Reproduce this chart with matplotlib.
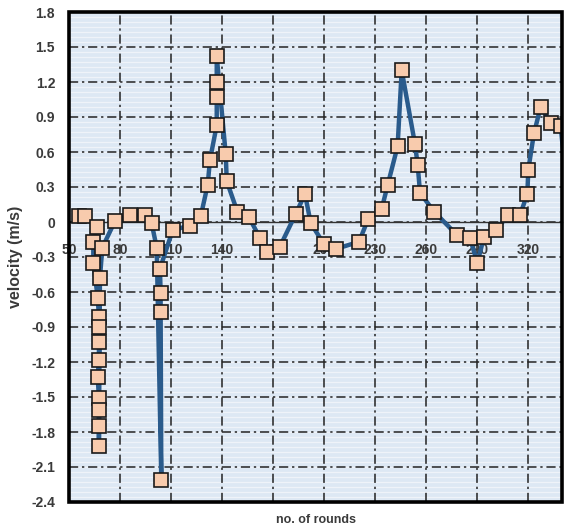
import matplotlib
matplotlib.use("Agg")
import matplotlib.pyplot as plt
import numpy as np
from matplotlib.patches import Rectangle

# ── data ────────────────────────────────────────────────────────────────────
rounds = [55.9, 59.4, 66.6, 64.3, 64.3, 66.9, 67.6, 67.6, 67.6, 67.6,
          66.9, 67.6, 67.6, 67.6, 67.6, 68.2, 69.6, 77.1, 85.9, 94.7,
          98.6, 101.6, 104.3, 103.9, 103.9, 103.5, 111.0, 121.2, 127.5, 131.6,
          132.9, 136.9, 136.9, 136.9, 136.9, 142.2, 142.8, 149.0, 155.9, 162.4,
          166.3, 174.1, 183.4, 188.8, 192.2, 200.0, 207.1, 220.6, 226.1, 233.9,
          237.5, 243.3, 245.7, 253.5, 255.1, 256.5, 264.7, 278.1, 285.9, 290.2,
          294.1, 301.2, 308.4, 315.3, 319.6, 320.2, 323.5, 327.5, 333.3, 339.2,
          345.0]
velocity = [0.05, 0.05, -0.04, -0.17, -0.35, -0.65, -0.81, -0.90, -1.03, -1.18,
            -1.33, -1.51, -1.61, -1.75, -1.92, -0.48, -0.22, 0.01, 0.06, 0.06,
            -0.01, -0.22, -2.21, -0.77, -0.61, -0.40, -0.07, -0.03, 0.05, 0.32,
            0.53, 0.83, 1.07, 1.20, 1.42, 0.58, 0.35, 0.09, 0.04, -0.14,
            -0.26, -0.21, 0.07, 0.24, -0.01, -0.19, -0.23, -0.17, 0.03, 0.11,
            0.32, 0.65, 1.30, 0.67, 0.49, 0.25, 0.09, -0.11, -0.14, -0.35,
            -0.13, -0.07, 0.06, 0.06, 0.24, 0.45, 0.76, 0.99, 0.85, 0.82,
            0.0]

X_TICKS = [50, 80, 110, 140, 170, 200, 230, 260, 290, 320]
Y_TICKS = [-2.4, -2.1, -1.8, -1.5, -1.2, -0.9, -0.6, -0.3, 0, 0.3, 0.6, 0.9, 1.2, 1.5, 1.8]
Y_LABELS = ["0" if v == 0 else f"{v:.1f}" for v in Y_TICKS]

LINE_C = "#2A5B8C"
FACE_C = "#F8CBAD"
TXT_C = "#3A3A3A"

plt.rcParams["font.family"] = ["Liberation Sans", "DejaVu Sans"]

fig = plt.figure(figsize=(5.67, 5.31), dpi=100)
ax = fig.add_axes([69 / 567, 1 - 502 / 531, 493 / 567, 490 / 531])
ax.set_facecolor("#DDE8F4")

# horizontal white stripe pattern of the plot area
ax.hlines(np.linspace(0, 1, 99), 0, 1, transform=ax.transAxes,
          colors="#F4F7FB", lw=0.9, alpha=0.8, zorder=0.2)

ax.set_xlim(50, 340)
ax.set_ylim(-2.4, 1.8)
ax.set_xticks(X_TICKS)
ax.set_yticks(Y_TICKS)
ax.set_yticklabels(Y_LABELS)

ax.set_axisbelow(True)
ax.grid(True, color="#222222", lw=1.1, ls=(0, (6, 2.5, 1.5, 2.5)))

# x axis crosses at 0, outer frame drawn separately
for s in ("left", "top", "right"):
    ax.spines[s].set_visible(False)
ax.spines["bottom"].set_position(("data", 0))
ax.spines["bottom"].set_color("#333333")
ax.spines["bottom"].set_linewidth(1.0)
ax.add_patch(Rectangle((0, 0), 1, 1, transform=ax.transAxes, fill=False,
                       ec="black", lw=2.6, clip_on=False, zorder=6))

ax.tick_params(axis="x", length=0, pad=15, labelsize=10, labelcolor=TXT_C)
ax.tick_params(axis="y", length=0, pad=10, labelsize=10, labelcolor=TXT_C)
for lab in ax.get_xticklabels() + ax.get_yticklabels():
    lab.set_fontweight("bold")

ax.plot(rounds, velocity, color=LINE_C, lw=3.2, marker="s", ms=9.8,
        mfc=FACE_C, mec="#1A1A1A", mew=1.2, zorder=4)

ax.set_xlabel("no. of rounds", fontsize=9, fontweight="bold", color=TXT_C)
ax.xaxis.set_label_coords(0.5, -0.025)
ax.xaxis.label.set_va("top")
ax.set_ylabel("velocity (m/s)", fontsize=11.5, fontweight="bold", color=TXT_C)
ax.yaxis.set_label_coords(-0.093, 0.5)

fig.savefig("out.png", dpi=100)
